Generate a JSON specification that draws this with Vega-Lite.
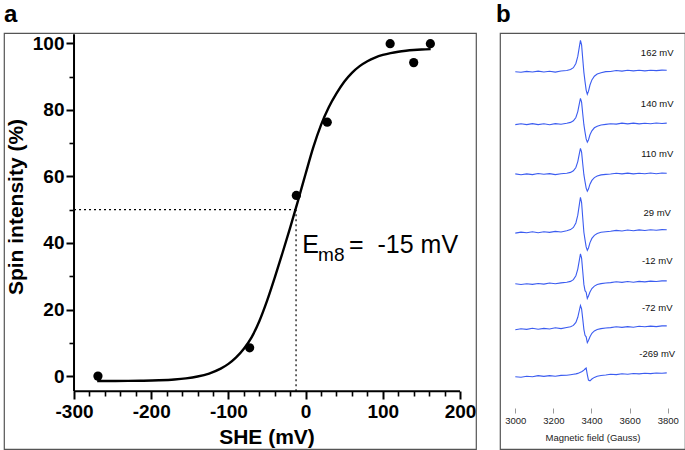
{
  "$schema": "https://vega.github.io/schema/vega-lite/v6.json",
  "padding": {"left": 3, "top": 2, "right": 1, "bottom": 0},
  "background": "white",
  "bounds": "flush",
  "config": {
    "view": {"stroke": "#555", "strokeWidth": 1.2},
    "font": "Liberation Sans",
    "axis": {"grid": false, "labelFont": "Liberation Sans", "titleFont": "Liberation Sans"},
    "title": {"font": "Liberation Sans"},
    "text": {"font": "Liberation Sans"}
  },
  "datasets": {
    "pts": [
      {"x": -269, "y": 0},
      {"x": -72.5, "y": 8.5},
      {"x": -12, "y": 54.3},
      {"x": 28, "y": 76.3},
      {"x": 109.5, "y": 99.9},
      {"x": 140, "y": 94.2},
      {"x": 161.6, "y": 99.9}
    ],
    "fit": [
      {"x": -270, "y": -1.48}, {"x": -250, "y": -1.47}, {"x": -230, "y": -1.43}, {"x": -210, "y": -1.37},
      {"x": -190, "y": -1.24}, {"x": -170, "y": -1.0}, {"x": -155, "y": -0.67}, {"x": -140, "y": -0.12},
      {"x": -125, "y": 0.78}, {"x": -110, "y": 2.24}, {"x": -100, "y": 3.68}, {"x": -90, "y": 5.63},
      {"x": -80, "y": 8.24}, {"x": -70, "y": 11.66}, {"x": -60, "y": 16.5}, {"x": -50, "y": 22.6},
      {"x": -40, "y": 29.6}, {"x": -30, "y": 37.0}, {"x": -20, "y": 44.6}, {"x": -10, "y": 52.6},
      {"x": 0, "y": 60.8}, {"x": 10, "y": 68.8}, {"x": 20, "y": 75.5}, {"x": 30, "y": 80.8},
      {"x": 40, "y": 84.95}, {"x": 50, "y": 88.46}, {"x": 60, "y": 91.14}, {"x": 70, "y": 93.15},
      {"x": 80, "y": 94.63}, {"x": 90, "y": 95.72}, {"x": 100, "y": 96.5}, {"x": 110, "y": 97.07},
      {"x": 120, "y": 97.48}, {"x": 130, "y": 97.77}, {"x": 140, "y": 97.98}, {"x": 150, "y": 98.13},
      {"x": 162, "y": 98.25}
    ],
    "axl": [
      {"x": -300, "x2": 200, "y": -4.51, "y2": -4.51},
      {"x": -300, "x2": -300, "y": -4.51, "y2": 102.7}
    ],
    "ref": [
      {"x": -300, "x2": -12.4, "y": 50, "y2": 50},
      {"x": -12.4, "x2": -12.4, "y": -4.51, "y2": 50}
    ],
    "ann": [
      {"x": -4.3, "y": 36.9, "t": "E"},
      {"x": 56.2, "y": 36.9, "t": "=\u00a0\u00a0-15 mV"}
    ],
    "sub": [
      {"x": 16.1, "y": 34.6, "t": "m8"}
    ],
    "epr": [
      {"B": 3000, "s162": 377.3, "s140": 324.4, "s110": 275.1, "s29": 215.9, "m12": 165.2, "m72": 119.3, "m269": 72.3},
      {"B": 3030, "s162": 376.7, "s140": 325.2, "s110": 274.2, "s29": 216.9, "m12": 164.5, "m72": 120.3, "m269": 71.7},
      {"B": 3060, "s162": 377.6, "s140": 324.4, "s110": 275.1, "s29": 216.2, "m12": 165.3, "m72": 119.6, "m269": 72.7},
      {"B": 3090, "s162": 377.0, "s140": 325.4, "s110": 274.4, "s29": 217.2, "m12": 164.6, "m72": 120.7, "m269": 72.2},
      {"B": 3120, "s162": 377.9, "s140": 324.4, "s110": 275.5, "s29": 216.3, "m12": 165.5, "m72": 119.7, "m269": 73.4},
      {"B": 3150, "s162": 377.0, "s140": 325.2, "s110": 274.7, "s29": 217.3, "m12": 164.9, "m72": 120.6, "m269": 72.6},
      {"B": 3180, "s162": 377.8, "s140": 324.3, "s110": 275.4, "s29": 216.6, "m12": 166.0, "m72": 120.0, "m269": 73.4},
      {"B": 3210, "s162": 376.9, "s140": 325.4, "s110": 274.4, "s29": 217.6, "m12": 165.3, "m72": 121.3, "m269": 72.7},
      {"B": 3240, "s162": 378.0, "s140": 324.8, "s110": 275.3, "s29": 217.0, "m12": 166.1, "m72": 120.4, "m269": 73.6},
      {"B": 3270, "s162": 378.5, "s140": 325.8, "s110": 275.8, "s29": 218.3, "m12": 166.7, "m72": 121.5, "m269": 73.7},
      {"B": 3290, "s162": 379.5, "s140": 326.6, "s110": 276.6, "s29": 219.4, "m12": 167.6, "m72": 122.2, "m269": 74.3},
      {"B": 3305, "s162": 381.3, "s140": 328.2, "s110": 278.2, "s29": 221.5, "m12": 169.4, "m72": 123.6, "m269": 74.7},
      {"B": 3318, "s162": 385.5, "s140": 331.5, "s110": 281.5, "s29": 226.0, "m12": 173.3, "m72": 126.6, "m269": 75.1},
      {"B": 3328, "s162": 392.6, "s140": 337.4, "s110": 287.4, "s29": 233.8, "m12": 179.9, "m72": 131.7, "m269": 75.6},
      {"B": 3336, "s162": 401.9, "s140": 345.1, "s110": 295.1, "s29": 244.1, "m12": 188.7, "m72": 138.5, "m269": 76.2},
      {"B": 3342, "s162": 408.7, "s140": 350.7, "s110": 300.7, "s29": 251.6, "m12": 195.1, "m72": 143.4, "m269": 76.7},
      {"B": 3348, "s162": 404.1, "s140": 346.9, "s110": 296.9, "s29": 246.5, "m12": 190.8, "m72": 140.1, "m269": 77.2},
      {"B": 3354, "s162": 390.1, "s140": 335.3, "s110": 285.3, "s29": 231.2, "m12": 177.8, "m72": 130.1, "m269": 78.0},
      {"B": 3360, "s162": 376.6, "s140": 324.3, "s110": 274.3, "s29": 216.7, "m12": 164.6, "m72": 119.7, "m269": 78.8},
      {"B": 3366, "s162": 367.4, "s140": 316.9, "s110": 267.4, "s29": 209.1, "m12": 158.3, "m72": 113.7, "m269": 80.0},
      {"B": 3372, "s162": 358.9, "s140": 310.1, "s110": 260.9, "s29": 202.1, "m12": 156.8, "m72": 112.2, "m269": 80.9},
      {"B": 3378, "s162": 354.8, "s140": 306.8, "s110": 257.8, "s29": 198.7, "m12": 150.6, "m72": 106.3, "m269": 74.4},
      {"B": 3384, "s162": 357.6, "s140": 309.0, "s110": 259.9, "s29": 201.0, "m12": 153.0, "m72": 108.5, "m269": 68.9},
      {"B": 3392, "s162": 364.0, "s140": 314.2, "s110": 264.8, "s29": 206.4, "m12": 156.9, "m72": 112.3, "m269": 68.2},
      {"B": 3402, "s162": 369.1, "s140": 318.2, "s110": 268.6, "s29": 210.6, "m12": 160.4, "m72": 115.7, "m269": 70.0},
      {"B": 3415, "s162": 372.8, "s140": 321.2, "s110": 271.4, "s29": 213.7, "m12": 162.9, "m72": 118.1, "m269": 71.6},
      {"B": 3430, "s162": 374.9, "s140": 322.8, "s110": 272.9, "s29": 215.4, "m12": 164.5, "m72": 119.5, "m269": 72.7},
      {"B": 3450, "s162": 376.3, "s140": 324.0, "s110": 274.1, "s29": 216.7, "m12": 165.4, "m72": 120.4, "m269": 73.5},
      {"B": 3475, "s162": 377.4, "s140": 324.6, "s110": 274.6, "s29": 217.3, "m12": 166.0, "m72": 121.0, "m269": 74.0},
      {"B": 3500, "s162": 377.5, "s140": 325.2, "s110": 275.0, "s29": 217.8, "m12": 166.4, "m72": 121.4, "m269": 74.7},
      {"B": 3530, "s162": 378.5, "s140": 324.9, "s110": 275.7, "s29": 218.6, "m12": 167.2, "m72": 122.3, "m269": 74.4},
      {"B": 3560, "s162": 377.9, "s140": 325.9, "s110": 275.1, "s29": 218.0, "m12": 166.6, "m72": 121.6, "m269": 75.2},
      {"B": 3590, "s162": 378.7, "s140": 325.1, "s110": 275.9, "s29": 219.0, "m12": 167.5, "m72": 122.4, "m269": 74.7},
      {"B": 3620, "s162": 378.1, "s140": 325.9, "s110": 275.1, "s29": 218.3, "m12": 166.8, "m72": 121.8, "m269": 75.5},
      {"B": 3650, "s162": 378.8, "s140": 325.1, "s110": 275.8, "s29": 219.1, "m12": 167.6, "m72": 122.8, "m269": 75.1},
      {"B": 3680, "s162": 378.1, "s140": 325.8, "s110": 275.3, "s29": 218.5, "m12": 167.1, "m72": 122.2, "m269": 75.7},
      {"B": 3710, "s162": 378.8, "s140": 325.3, "s110": 276.0, "s29": 219.3, "m12": 167.9, "m72": 122.9, "m269": 75.4},
      {"B": 3740, "s162": 378.4, "s140": 326.0, "s110": 275.3, "s29": 218.8, "m12": 167.5, "m72": 122.4, "m269": 76.0},
      {"B": 3770, "s162": 378.9, "s140": 325.5, "s110": 276.0, "s29": 219.4, "m12": 168.1, "m72": 123.1, "m269": 75.8},
      {"B": 3795, "s162": 378.8, "s140": 325.9, "s110": 275.8, "s29": 219.3, "m12": 168.1, "m72": 123.1, "m269": 76.1}
    ],
    "lab": [
      {"t": "162 mV", "B": 3745, "v": 396.3},
      {"t": "140 mV", "B": 3745, "v": 344.7},
      {"t": "110 mV", "B": 3745, "v": 294.7},
      {"t": "29 mV", "B": 3745, "v": 236.3},
      {"t": "-12 mV", "B": 3745, "v": 188.0},
      {"t": "-72 mV", "B": 3745, "v": 141.3},
      {"t": "-269 mV", "B": 3745, "v": 95.3}
    ]
  },
  "spacing": 24,
  "hconcat": [
    {
      "width": 472,
      "height": 416,
      "title": {"text": "a", "anchor": "start", "fontSize": 24, "fontWeight": "bold", "color": "black", "offset": 6},
      "encoding": {
        "x": {"field": "x", "type": "quantitative", "scale": {"domain": [-390.7, 220.7], "nice": false, "zero": false}, "axis": null},
        "y": {"field": "y", "type": "quantitative", "scale": {"domain": [-21.9, 103.1], "nice": false, "zero": false}, "axis": null}
      },
      "layer": [
        {
          "data": {"name": "axl"},
          "mark": {"type": "rule", "color": "black", "strokeWidth": 2},
          "encoding": {"x2": {"field": "x2"}, "y2": {"field": "y2"}}
        },
        {
          "data": {"name": "ref"},
          "mark": {"type": "rule", "color": "black", "strokeWidth": 1.2, "strokeDash": [2, 3]},
          "encoding": {"x2": {"field": "x2"}, "y2": {"field": "y2"}}
        },
        {
          "data": {"name": "fit"},
          "mark": {"type": "line", "color": "black", "strokeWidth": 2.4, "interpolate": "monotone"},
          "encoding": {}
        },
        {
          "data": {"name": "pts"},
          "mark": {"type": "circle", "size": 85, "color": "black", "opacity": 1},
          "encoding": {
            "x": {"field": "x", "type": "quantitative", "scale": {"domain": [-390.7, 220.7], "nice": false, "zero": false},
              "axis": {"orient": "bottom", "values": [-300, -200, -100, 0, 100, 200], "offset": -58, "domain": false,
                "labelExpr": "datum.value < 0 ? '-' + abs(datum.value) : '' + datum.value",
                "tickSize": 8, "tickWidth": 2, "tickColor": "black", "labelFontSize": 19, "labelFontWeight": "bold",
                "labelColor": "black", "labelPadding": 3, "labelFlush": false, "labelOverlap": false,
                "title": "SHE (mV)", "titleFontSize": 21, "titleFontWeight": "bold", "titleColor": "black",
                "titlePadding": 5, "titleX": 262.5}},
            "y": {"field": "y", "type": "quantitative", "scale": {"domain": [-21.9, 103.1], "nice": false, "zero": false},
              "axis": {"orient": "left", "values": [0, 20, 40, 60, 80, 100], "offset": -70, "domain": false,
                "labelExpr": "'' + datum.value",
                "tickSize": 8, "tickWidth": 2, "tickColor": "black", "labelFontSize": 19, "labelFontWeight": "bold",
                "labelColor": "black", "labelPadding": 2, "labelFlush": false, "labelOverlap": false,
                "title": "Spin intensity (%)", "titleFontSize": 21, "titleFontWeight": "bold", "titleColor": "black",
                "titlePadding": 6, "titleY": 173.5}}
          }
        },
        {
          "data": {"name": "pts"},
          "mark": {"type": "circle", "opacity": 0},
          "encoding": {
            "x": {"field": "x", "type": "quantitative", "scale": {"domain": [-390.7, 220.7], "nice": false, "zero": false},
              "axis": {"orient": "bottom", "values": [-280, -260, -240, -220, -180, -160, -140, -120, -80, -60, -40, -20, 20, 40, 60, 80, 120, 140, 160, 180],
                "offset": -58, "domain": false, "labels": false, "title": null, "tickSize": 5, "tickWidth": 1.6, "tickColor": "black"}},
            "y": {"field": "y", "type": "quantitative", "scale": {"domain": [-21.9, 103.1], "nice": false, "zero": false},
              "axis": {"orient": "left", "values": [10, 30, 50, 70, 90], "offset": -70, "domain": false, "labels": false,
                "title": null, "tickSize": 5, "tickWidth": 1.6, "tickColor": "black"}}
          }
        },
        {
          "data": {"name": "ann"},
          "mark": {"type": "text", "align": "left", "baseline": "alphabetic", "fontSize": 25, "color": "black"},
          "encoding": {"text": {"field": "t"}}
        },
        {
          "data": {"name": "sub"},
          "mark": {"type": "text", "align": "left", "baseline": "alphabetic", "fontSize": 19, "color": "black"},
          "encoding": {"text": {"field": "t"}}
        }
      ],
      "resolve": {"axis": {"x": "independent", "y": "independent"}}
    },
    {
      "width": 185,
      "height": 416,
      "title": {"text": "b", "anchor": "start", "fontSize": 24, "fontWeight": "bold", "color": "black", "offset": 6, "dx": -4},
      "layer": [
        {
          "data": {"name": "epr"},
          "transform": [{"fold": ["s162", "s140", "s110", "s29", "m12", "m72", "m269"], "as": ["trace", "v"]}],
          "mark": {"type": "line", "color": "#3b5cf0", "strokeWidth": 1.1},
          "encoding": {
            "x": {"field": "B", "type": "quantitative", "scale": {"domain": [2919.7, 3890.8], "nice": false, "zero": false},
              "axis": {"values": [3000, 3200, 3400, 3600, 3800], "format": "d", "offset": -41, "domain": false, "tickSize": 5,
                "tickColor": "#999", "labelFontSize": 9.5, "labelColor": "#222", "labelPadding": 2, "labelFlush": false,
                "labelOverlap": false, "title": "Magnetic field (Gauss)", "titleFontSize": 9.5, "titleFontWeight": "normal",
                "titleColor": "#222", "titlePadding": 8}},
            "y": {"field": "v", "type": "quantitative", "scale": {"domain": [0, 416], "nice": false, "zero": false}, "axis": null},
            "detail": {"field": "trace", "type": "nominal"}
          }
        },
        {
          "data": {"name": "lab"},
          "mark": {"type": "text", "fontSize": 9.5, "align": "center", "baseline": "middle", "color": "#111"},
          "encoding": {
            "x": {"field": "B", "type": "quantitative"},
            "y": {"field": "v", "type": "quantitative"},
            "text": {"field": "t"}
          }
        }
      ]
    }
  ]
}
